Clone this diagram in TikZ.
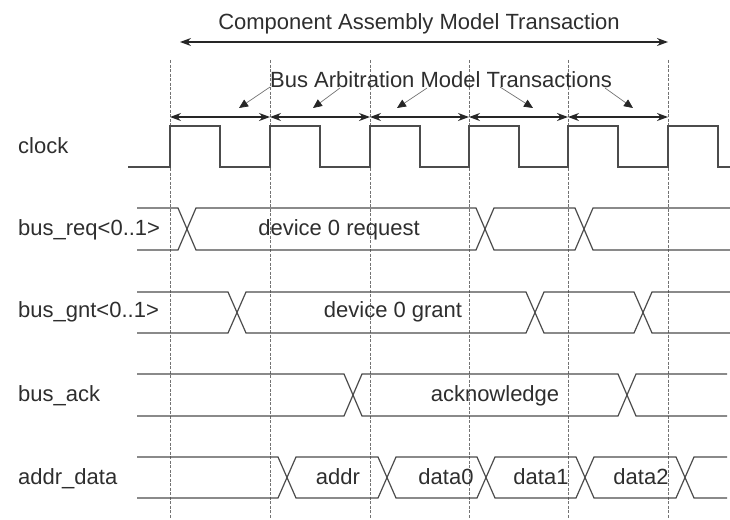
\documentclass[tikz,border=0pt]{standalone}
\usepackage{fontspec}
\setmainfont{Liberation Sans}
\usetikzlibrary{arrows.meta}

% One bus signal: #1 top level, #2 bottom level, #3 start x, #4 end x, #5 crossing centres
\newcommand\busrow[5]{%
  \coordinate (busend) at (#4,0);
  \foreach \ya/\yb in {#1/#2,#2/#1}{%
    \draw[sig] (#3,\ya) foreach \c [count=\i] in {#5} {
        -- ({\c-9},{ifthenelse(isodd(\i),\ya,\yb)})
        -- ({\c+9},{ifthenelse(isodd(\i),\yb,\ya)}) coordinate (bustail)}
      -- (bustail -| busend);
  }}

\begin{document}
\begin{tikzpicture}[x=1pt,y=-1pt,
  lbl/.style={font=\fontsize{22}{25}\selectfont, text=black!82, inner sep=0pt},
  sig/.style={draw=black!70, line width=1.2pt, line join=miter},
  gridline/.style={draw=black!55, line width=0.6pt, dash pattern=on 3pt off 1.5pt},
  span/.style={draw=black!85, line width=1.1pt,
    {Stealth[length=11pt,width=8pt]}-{Stealth[length=11pt,width=8pt]}},
  pointer/.style={draw=black!55, line width=0.7pt,
    -{Triangle[length=9pt,width=8pt,color=black!85]}}]

\useasboundingbox (0,0) rectangle (730,519);

% clock edges and their dashed guide lines
\foreach \x [count=\i] in {170,270,370,469,568,668} {
  \coordinate (g\i) at (\x,117);
  \draw[gridline] (\x,60) -- (\x,519);
}

% clock waveform
\draw[sig] (128,167) foreach \x in {170,270,370,469,568,668}
  { -- (\x,167) -- (\x,126) -- (\x+50,126) -- (\x+50,167) } -- (730,167);

% per-cycle bus arbitration spans
\foreach \a/\b in {1/2,2/3,3/4,4/5,5/6}
  \draw[span] (g\a) -- (g\b);

% whole component assembly span
\coordinate (ca) at (180,42);
\coordinate (cb) at (668,42);
\draw[span] (ca) -- (cb);

\node[lbl, anchor=base] (title) at (419,30) {Component Assembly Model Transaction};
\node[lbl, anchor=base] (sub) at (441,87) {Bus Arbitration Model Transactions};

% pointers from the caption to the spans
\coordinate (p1) at (270,87);  \coordinate (q1) at (239,108);
\coordinate (p2) at (340,88);  \coordinate (q2) at (313,108);
\coordinate (p3) at (427,88);  \coordinate (q3) at (397,108);
\coordinate (p4) at (500,87);  \coordinate (q4) at (533,108);
\coordinate (p5) at (605,88);  \coordinate (q5) at (633,108);
\foreach \i in {1,...,5} \draw[pointer] (p\i) -- (q\i);

% signal names
\node[lbl, anchor=base west] (nclk) at (18,153) {clock};
\node[lbl, anchor=base west] (nreq) at (18,235) {bus\_req<0..1>};
\node[lbl, anchor=base west] (ngnt) at (18,317) {bus\_gnt<0..1>};
\node[lbl, anchor=base west] (nack) at (18,401) {bus\_ack};
\node[lbl, anchor=base west] (nad)  at (18,484) {addr\_data};

% bus waveforms
\busrow{208}{250}{137}{730}{187,485,584}
\busrow{292}{333}{137}{730}{237,535,643}
\busrow{374}{416}{137}{727}{353,627}
\busrow{457}{498}{137}{727}{287,387,486,585,685}

% values carried on the buses
\node[lbl, anchor=base] (vreq) at (339,235) {device 0 request};
\node[lbl, anchor=base] (vgnt) at (393,317) {device 0 grant};
\node[lbl, anchor=base] (vack) at (495,401) {acknowledge};
\node[lbl, anchor=base] (vaddr) at (338,484) {addr};
\node[lbl, anchor=base] (vd0) at (446,484) {data0};
\node[lbl, anchor=base] (vd1) at (541,484) {data1};
\node[lbl, anchor=base] (vd2) at (641,484) {data2};
\end{tikzpicture}
\end{document}
